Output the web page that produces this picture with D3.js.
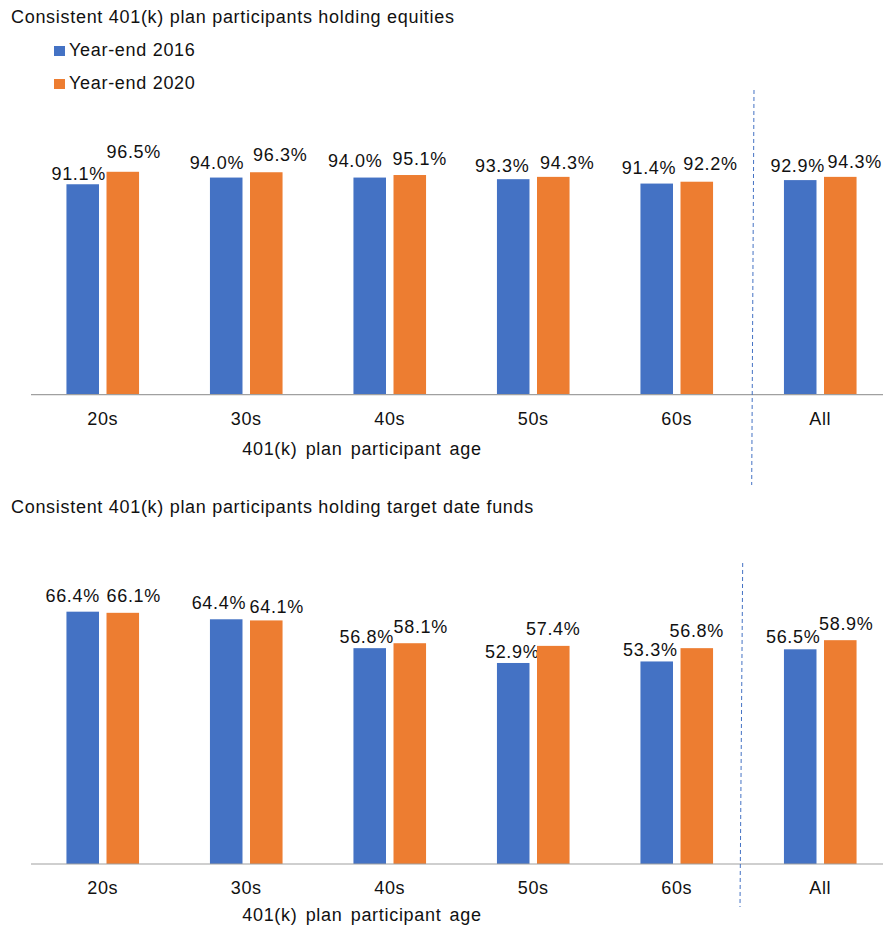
<!DOCTYPE html>
<html>
<head>
<meta charset="utf-8">
<script src="https://cdn.jsdelivr.net/npm/d3@7"></script>
<style>
  body { margin: 0; background: #fff; }
  text { font-family: 'Liberation Sans', Arial, sans-serif; fill: #111; letter-spacing: 0.7px; }
</style>
</head>
<body>
<svg id="chart" width="883" height="928"></svg>
<script>
// data
const ageGroups = ['20s', '30s', '40s', '50s', '60s', 'All'];
const seriesNames = ['Year-end 2016', 'Year-end 2020'];
const equity2016 = [91.1, 94.0, 94.0, 93.3, 91.4, 92.9];
const equity2020 = [96.5, 96.3, 95.1, 94.3, 92.2, 94.3];
const tdf2016 = [66.4, 64.4, 56.8, 52.9, 53.3, 56.5];
const tdf2020 = [66.1, 64.1, 58.1, 57.4, 56.8, 58.9];

// label nudges [dx, dy] from bar centre / bar top (layout only)
const equityNudge = [
    [[-4, -4.7], [-9.3, -9], [-14.5, -11], [-11, -7], [-7.7, -9.3], [-2.5, -8.3]],
    [[11, -14], [14, -11], [10, -10], [14, -7.5], [13.7, -11.7], [14.5, -8.6]]
];
const tdfNudge = [
    [[-10, -10], [-7.3, -10], [-3, -5], [-1, -4.7], [-6.4, -5.5], [-7, -6]],
    [[11, -10.5], [10.5, -7], [11, -10], [0, -11], [0, -11.5], [6, -10]]
];

const colors = ['#4472c4', '#ed7d31'];
const fontSize = 18;
const svg = d3.select('#chart');

const x = d3.scaleBand().domain(ageGroups).range([31, 892]).padding(0);
const x1 = d3.scaleBand()
    .domain([0, 1])
    .range([0, x.bandwidth()])
    .paddingInner(0.1875)
    .paddingOuter(0.885);

function drawPanel(opts) {
    const g = svg.append('g');
    const y = d3.scaleLinear().domain([0, opts.max]).range([opts.base, opts.base - opts.pxPer * opts.max]);

    g.append('text')
        .attr('x', 11)
        .attr('y', opts.titleY)
        .attr('font-size', fontSize)
        .text(opts.title);

    const series = [opts.s2016, opts.s2020];
    series.forEach((vals, si) => {
        g.selectAll('.bar' + si)
            .data(vals)
            .join('rect')
            .attr('x', (d, i) => x(ageGroups[i]) + x1(si))
            .attr('y', d => y(d))
            .attr('width', x1.bandwidth())
            .attr('height', d => y(0) - y(d))
            .attr('fill', colors[si]);

        g.selectAll('.lbl' + si)
            .data(vals)
            .join('text')
            .attr('x', (d, i) => x(ageGroups[i]) + x1(si) + x1.bandwidth() / 2 + opts.nudge[si][i][0])
            .attr('y', (d, i) => y(d) + opts.nudge[si][i][1])
            .attr('text-anchor', 'middle')
            .attr('font-size', fontSize)
            .text(d => d.toFixed(1) + '%');
    });

    // baseline axis
    const axis = g.append('g')
        .attr('transform', `translate(0, ${y(0)})`)
        .call(d3.axisBottom(x).tickSize(0).tickPadding(17.5));
    axis.select('.domain').attr('stroke', '#a0a0a0').attr('stroke-width', 1.2).attr('d', 'M31,0H883');
    axis.selectAll('.tick text')
        .attr('font-size', fontSize)
        .attr('font-family', "'Liberation Sans', Arial, sans-serif")
        .attr('fill', '#111');

    g.append('text')
        .attr('x', 362)
        .attr('y', y(0) + opts.axisTitleDy)
        .attr('text-anchor', 'middle')
        .attr('font-size', fontSize)
        .attr('word-spacing', 2.5)
        .text('401(k) plan participant age');

    // dashed divider before "All"
    const bx = x('All');
    g.append('line')
        .attr('x1', bx + opts.div[0])
        .attr('y1', opts.div[1])
        .attr('x2', bx + opts.div[2])
        .attr('y2', opts.div[3])
        .attr('stroke', '#4472c4')
        .attr('stroke-width', 1)
        .attr('stroke-dasharray', '4,3');
}

drawPanel({
    title: 'Consistent 401(k) plan participants holding equities',
    titleY: 23,
    s2016: equity2016,
    s2020: equity2020,
    nudge: equityNudge,
    max: 100,
    pxPer: 2.31,
    base: 394.7,
    axisTitleDy: 60,
    div: [5.5, 90, 3.2, 485]
});

drawPanel({
    title: 'Consistent 401(k) plan participants holding target date funds',
    titleY: 513,
    s2016: tdf2016,
    s2020: tdf2020,
    nudge: tdfNudge,
    max: 70,
    pxPer: 3.8,
    base: 864,
    axisTitleDy: 57,
    div: [-5.8, 563, -8.5, 907]
});

// legend
const legend = svg.append('g');
seriesNames.forEach((name, i) => {
    const ly = 56 + i * 33;
    legend.append('rect')
        .attr('x', 54)
        .attr('y', ly - 10)
        .attr('width', 11)
        .attr('height', 10)
        .attr('fill', colors[i]);
    legend.append('text')
        .attr('x', 69)
        .attr('y', ly)
        .attr('font-size', fontSize)
        .text(name);
});
</script>
</body>
</html>
